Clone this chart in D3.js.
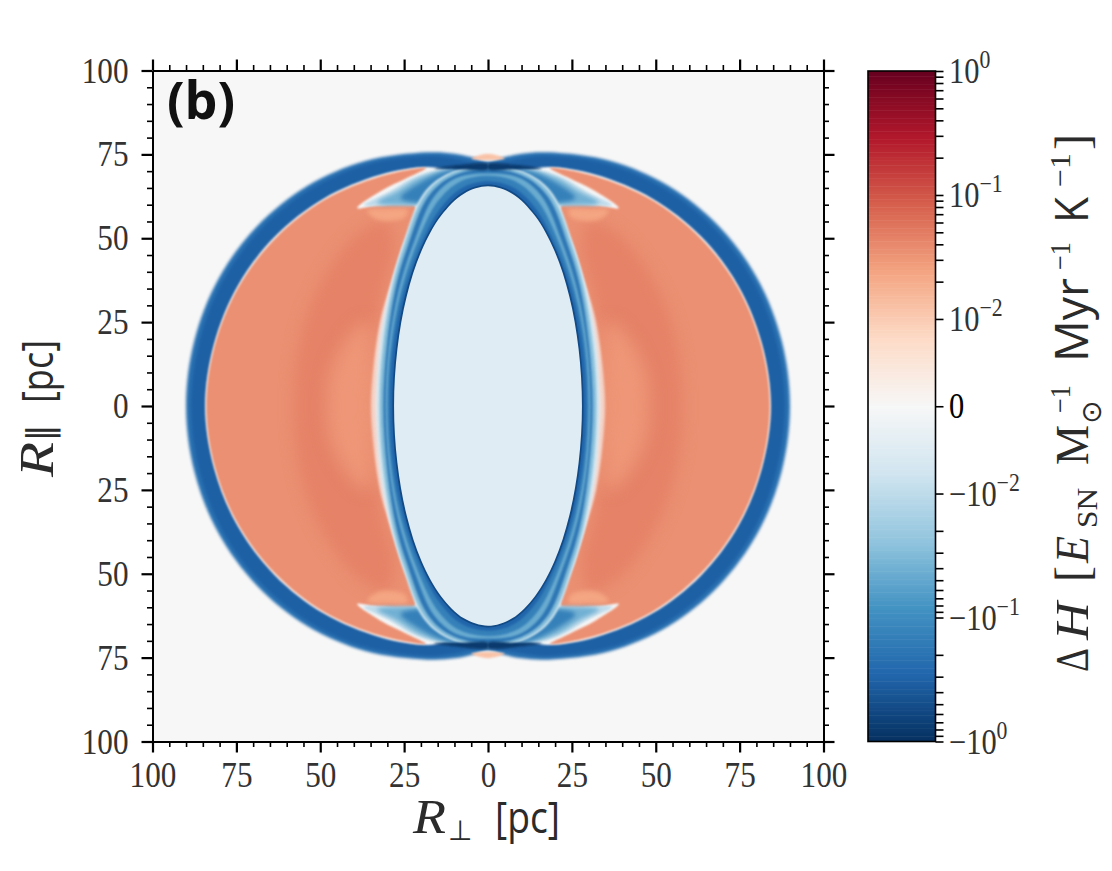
<!DOCTYPE html>
<html>
<head>
<meta charset="utf-8">
<script src="https://cdn.jsdelivr.net/npm/d3@7"></script>
<style>
  body { margin: 0; background: #fff; }
  text { fill: #2b2b2b; }
  .tick text { font-family: "Liberation Serif", serif; font-size: 36px; fill: #333; }
  .serif { font-family: "Liberation Serif", serif; }
  .sans { font-family: "Open Sans", sans-serif; }
  .dejavu { font-family: "DejaVu Sans", sans-serif; }
</style>
</head>
<body>
<div id="chart"></div>
<script>
// axis ticks (pc)
var majorTicks = [-100, -75, -50, -25, 0, 25, 50, 75, 100];
var minorSteps = [5, 10, 15, 20];

// colorbar ticks
var cbMajor = [1, 0.1, 0.01, 0, -0.01, -0.1, -1];
var cbLabels = ["10|0", "10|−1", "10|−2", "0", "−10|−2", "−10|−1", "−10|0"];
var cbMantissa = [2, 3, 4, 5, 6, 7, 8, 9];
var cbDecades = [0.01, 0.1];

// contours, [R_perp, R_par] in pc, one quadrant each
var shellOuter = [[0,72.8],[5,74.2],[10,75.2],[18,75.6],[36.6,73],[54,65.5],[68.9,53.5],[80.4,37.8],[87.5,19.6],[90,0]];
var shellMid = [[0,72],[5,72.8],[10,73.8],[17.5,74.5],[35.9,72],[53,64.5],[67.7,52.7],[79,37.3],[86,19.3],[88.5,0]];
var shellInner = [[0,69.5],[10,70],[18,71.2],[32.1,68.9],[49,61.8],[63.5,50.5],[74.6,35.8],[81.6,18.6],[84.3,0]];
var coreLine = [[0,72.2],[8,71.9],[16,70.8],[8,70.6],[0,70.6]];
var lobe = [[84,0],[81.4,18.4],[74.4,35.5],[63.3,50.1],[48.9,61.4],[32,68.5],[18.5,70.9],[24,68],[32,64],[39,59],[32,60],[21.8,59.7],[26,46],[29.5,35],[32.3,25],[34.2,12],[35,0]];
var lobeDark = [[58,0],[57,15],[53,30],[46,43],[38,52],[30,55],[28,46],[31,35],[33,25],[37,12],[39,0]];
var lobeLight = [[48,0],[47,10],[42,20],[36,25],[34.5,12],[35,0]];
var notchGlow = [[36,58.3],[30,58.8],[24,58.5],[25,56],[33,55.5]];
var wedgePale = [[37,59.9],[30,63.5],[23,67.6],[16,70],[8,70],[12,60],[20,59.8],[28,59.8]];
var wedgeMid = [[33,60.6],[27,64],[20,68.2],[10,70],[12,60],[20,60]];
var wedgeDark = [[26,62],[21,66],[14,69.5],[8,70.5],[10,62],[18,60.5]];
var bandHalo = [[0,72],[12.5,69],[19.5,63],[25.5,48],[29,36],[32.1,18.6],[33.2,0]];
var bandLight = [[0,71.5],[12,68.8],[19,62.7],[25,47.8],[28.4,35.8],[31.2,18.5],[32.3,0]];
var bandOuter = [[0,70.8],[11.2,68.2],[18,62.2],[24,47.5],[27.5,35.5],[30.1,18.4],[31.2,0]];
var bandStripe = [[0,69.3],[9.3,68],[16,62.5],[22,49],[26.6,34.5],[29.5,17.9],[30.5,0]];
var bandInner = [[0,68.6],[8.5,66.8],[15,61],[21,49],[26,34],[29,17.6],[30,0]];
var bandDeep = [[0,67],[7.8,65],[14.5,58.5],[20.5,47],[25.2,33.5],[28.3,17.3],[29.3,0]];
var bandEdge = [[0,66],[7.4,63.8],[14.3,57.1],[20.2,46.6],[24.7,33],[27.5,17.1],[28.5,0]];
var interior = [[0,65.5],[7.2,63.3],[14,56.7],[19.8,46.3],[24.2,32.8],[27,17],[28,0]];
var topLens = [[-5,73.8],[0,75.2],[5,73.8],[0,73.3]];

// delta H level of each region
var levels = {
  background: 0, shell: -0.22, shellMid: -0.33, core: -0.8, lobe: 0.035, lobeDark: 0.045, lobeLight: 0.031,
  notch: 0.024, wedgePale: -0.01, wedgeMid: -0.04, wedgeDark: -0.14, bandHalo: -0.008, bandLight: -0.03,
  bandOuter: -0.18, bandStripe: -0.045, bandInner: -0.14, bandDeep: -0.3, bandEdge: -0.55, interior: -0.0046, lens: 0.012
};

var width = 1112, height = 871;
var plot = { left: 152.5, right: 823.5, top: 70.5, bottom: 741.5 };
var bar = { left: 868, right: 935.5, top: 71, bottom: 741.5 };

// symlog norm: linear below 0.01, one decade = 1 unit, linear part = 0.704 unit
var linPart = 0.704, limit = linPart + 2;
function symlog(v) {
  var a = Math.abs(v);
  var t = a < 0.01 ? linPart * a / 0.01 : linPart + Math.log10(a / 0.01);
  return v < 0 ? -t : t;
}
var rdbu = d3.piecewise(d3.interpolateRgb, d3.schemeRdBu[11].slice().reverse());
function colour(v) {
  return rdbu(0.5 + symlog(v) / limit / 2);
}

var x = d3.scaleLinear().domain([-100, 100]).range([plot.left, plot.right]);
var y = d3.scaleLinear().domain([-100, 100]).range([plot.bottom, plot.top]);
var cbY = d3.scaleLinear().domain([-limit, limit]).range([bar.bottom, bar.top]);

var svg = d3.select("#chart").append("svg").attr("width", width).attr("height", height);
var defs = svg.append("defs");
defs.append("clipPath").attr("id", "plot-clip").append("rect")
  .attr("x", plot.left).attr("y", plot.top)
  .attr("width", plot.right - plot.left).attr("height", plot.bottom - plot.top);

var blurs = {};
function blurId(s) {
  var id = "blur" + String(s).replace(".", "_");
  if (!blurs[id]) {
    blurs[id] = true;
    defs.append("filter").attr("id", id)
      .attr("filterUnits", "userSpaceOnUse").attr("x", 0).attr("y", 0).attr("width", width).attr("height", height)
      .attr("color-interpolation-filters", "sRGB")
      .append("feGaussianBlur").attr("stdDeviation", s);
  }
  return "url(#" + id + ")";
}

var outline = d3.line().x(function(d) { return x(d[0]); }).y(function(d) { return y(d[1]); })
  .curve(d3.curveCatmullRomClosed.alpha(0.5));

// quadrant running from the R_par axis to the R_perp axis -> whole loop
function fourWay(q) {
  var a = q.slice();
  var b = q.slice(0, -1).reverse().map(function(d) { return [d[0], -d[1]]; });
  var c = q.slice(1).map(function(d) { return [-d[0], -d[1]]; });
  var e = q.slice(1, -1).reverse().map(function(d) { return [-d[0], d[1]]; });
  return a.concat(b, c, e);
}
// half lobe starting and ending on the R_perp axis -> lobe
function twoWay(q, side) {
  var a = q.map(function(d) { return [side * d[0], d[1]]; });
  var b = q.slice(1, -1).reverse().map(function(d) { return [side * d[0], -d[1]]; });
  return a.concat(b);
}
function flip(q, sx, sy) {
  return q.map(function(d) { return [sx * d[0], sy * d[1]]; });
}

var field = svg.append("g").attr("clip-path", "url(#plot-clip)");
field.append("rect").attr("x", plot.left).attr("y", plot.top)
  .attr("width", plot.right - plot.left).attr("height", plot.bottom - plot.top)
  .attr("fill", colour(levels.background));

function region(points, level, blur) {
  field.append("path").attr("d", outline(points)).attr("fill", colour(level))
    .attr("filter", blurId(blur));
}

region(fourWay(shellOuter), levels.shell, 1.8);
region(fourWay(shellMid), levels.shellMid, 1.4);
region(fourWay(shellInner), levels.background, 0.9);

[1, -1].forEach(function(side) {
  region(twoWay(lobe, side), levels.lobe, 0.8);
  region(twoWay(lobeDark, side), levels.lobeDark, 7);
  region(twoWay(lobeLight, side), levels.lobeLight, 8);
});
[[1, 1], [-1, 1], [1, -1], [-1, -1]].forEach(function(s) {
  region(flip(notchGlow, s[0], s[1]), levels.notch, 2);
  region(flip(wedgePale, s[0], s[1]), levels.wedgePale, 1.5);
  region(flip(wedgeMid, s[0], s[1]), levels.wedgeMid, 2);
  region(flip(wedgeDark, s[0], s[1]), levels.wedgeDark, 2.2);
});
region(fourWay(bandHalo), levels.bandHalo, 1);
region(fourWay(bandLight), levels.bandLight, 0.8);
region(fourWay(bandOuter), levels.bandOuter, 0.9);
region(fourWay(bandStripe), levels.bandStripe, 1);
region(fourWay(bandInner), levels.bandInner, 1);
region(fourWay(bandDeep), levels.bandDeep, 0.9);
region(fourWay(bandEdge), levels.bandEdge, 0.6);
region(fourWay(interior), levels.interior, 0.5);
[[1, 1], [-1, 1], [1, -1], [-1, -1]].forEach(function(s) {
  region(flip(coreLine, s[0], s[1]), levels.core, 1);
});
[1, -1].forEach(function(sy) {
  region(flip(topLens, 1, sy), levels.lens, 0.8);
});

// axes: major + minor on all four sides
var minorTicks = [];
[-100, -75, -50, -25, 0, 25, 50, 75].forEach(function(m) {
  minorSteps.forEach(function(s) { minorTicks.push(m + s); });
});
var absFmt = function(d) { return Math.abs(d); };

function styleAxis(g, w) {
  g.selectAll("path.domain").attr("stroke", "#000").attr("stroke-width", 2);
  g.selectAll(".tick line").attr("stroke", "#000").attr("stroke-width", w);
}
function addAxis(gen, scale, tx, ty, labelled, pad) {
  var major = gen(scale).tickValues(majorTicks).tickSize(11).tickSizeOuter(0).tickPadding(pad)
    .tickFormat(labelled ? absFmt : "");
  var minor = gen(scale).tickValues(minorTicks).tickSize(5.5).tickSizeOuter(0).tickFormat("");
  var a = svg.append("g").attr("transform", "translate(" + tx + "," + ty + ")").call(major);
  styleAxis(a, 2.2);
  a.selectAll(".tick text").each(function(d) {
    // the digits of the figure are tall and narrow
    var n = String(Math.abs(d)).length;
    d3.select(this).attr("textLength", n * 15.6).attr("lengthAdjust", "spacingAndGlyphs");
  });
  var b = svg.append("g").attr("transform", "translate(" + tx + "," + ty + ")").call(minor);
  styleAxis(b, 1.6);
}
addAxis(d3.axisBottom, x, 0, plot.bottom, true, 9);
addAxis(d3.axisTop, x, 0, plot.top, false, 3);
addAxis(d3.axisLeft, y, plot.left, 0, true, 13);
addAxis(d3.axisRight, y, plot.right, 0, false, 3);

// panel tag
svg.append("text").attr("class", "sans").attr("x", 167).attr("y", 119)
  .attr("font-size", 52).attr("font-weight", 700).style("fill", "#111").text("(b)");

// axis titles, pieces placed one by one: text, class, offset along, offset across, size, italic, fitted length
function titlePieces(g, pieces) {
  pieces.forEach(function(p) {
    var t = g.append("text").attr("class", p[1]).attr("x", p[2]).attr("y", p[3]).attr("font-size", p[4]).text(p[0]);
    if (p[5]) t.attr("font-style", "italic");
    if (p[6]) t.attr("textLength", p[6]).attr("lengthAdjust", "spacingAndGlyphs");
  });
}
titlePieces(svg.append("g").attr("transform", "translate(413,833)"), [
  ["R", "serif", 0, 0, 48, true, 33],
  ["⊥", "dejavu", 35, 7, 28, false, 0],
  ["[pc]", "sans", 82, 0, 44, false, 65]
]);
titlePieces(svg.append("g").attr("transform", "translate(53,477) rotate(-90)"), [
  ["R", "serif", 0, 0, 48, true, 35],
  ["∥", "dejavu", 35, 0, 36, false, 0],
  ["[pc]", "sans", 74, 0, 44, false, 63]
]);
titlePieces(svg.append("g").attr("transform", "translate(1088,672) rotate(-90)"), [
  ["Δ", "serif", 0, 0, 46, false, 24],
  ["H", "serif", 32, 0, 46, true, 38],
  ["[", "serif", 90, 0, 48, false, 0],
  ["E", "serif", 109, 0, 46, true, 27],
  ["SN", "serif", 144, 9, 30, false, 40],
  ["M", "serif", 207, 0, 46, false, 40],
  ["⊙", "dejavu", 248, 13, 28, false, 0],
  ["−1", "serif", 259, -18, 30, false, 28],
  ["Myr", "sans", 310, 0, 46, false, 84],
  ["−1", "serif", 402, -18, 30, false, 28],
  ["K", "sans", 449, 0, 46, false, 26],
  ["−1", "serif", 485, -18, 30, false, 34],
  ["]", "serif", 522, 0, 48, false, 0]
]);

// colorbar strips
var strips = d3.range(256);
var stripH = (bar.bottom - bar.top) / strips.length;
svg.append("g").selectAll("rect").data(strips).enter().append("rect")
  .attr("x", bar.left)
  .attr("y", function(d) { return cbY(limit - 2 * limit * d / strips.length); })
  .attr("width", bar.right - bar.left)
  .attr("height", stripH + 0.5)
  .attr("fill", function(d) { return rdbu(1 - (d + 0.5) / strips.length); });
svg.append("rect").attr("x", bar.left).attr("y", bar.top)
  .attr("width", bar.right - bar.left).attr("height", bar.bottom - bar.top)
  .attr("fill", "none").attr("stroke", "#000").attr("stroke-width", 1.6);

var cbMinor = [];
cbDecades.forEach(function(dec) {
  cbMantissa.forEach(function(m) { cbMinor.push(symlog(m * dec)); cbMinor.push(symlog(-m * dec)); });
});
var cbAxis = svg.append("g").attr("transform", "translate(" + bar.right + ",0)")
  .call(d3.axisRight(cbY).tickValues(cbMajor.map(symlog).concat(cbMinor)).tickSize(8).tickSizeOuter(0).tickFormat(""));
cbAxis.select("path.domain").remove();
cbAxis.selectAll(".tick line").attr("stroke", "#000").attr("stroke-width", 1.6);

var cbText = svg.append("g").selectAll("text").data(cbMajor).enter().append("text")
  .attr("class", "serif")
  .attr("transform", function(d) { return "translate(949," + (cbY(symlog(d)) + 12) + ") scale(0.87,1)"; })
  .attr("font-size", 35)
  .style("fill", function(d) { return d === 0 ? "#000" : "#333"; });
cbText.each(function(d, i) {
  var parts = cbLabels[i].split("|");
  var t = d3.select(this);
  t.append("tspan").text(parts[0]);
  if (parts[1]) t.append("tspan").attr("font-size", 25).attr("dy", -15).text(parts[1]);
});
</script>
</body>
</html>
